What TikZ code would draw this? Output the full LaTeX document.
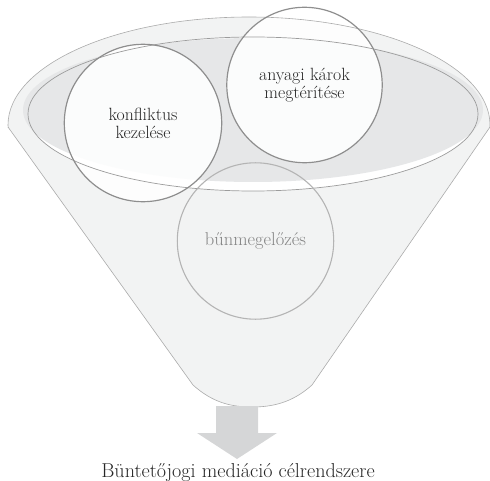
\documentclass[tikz,border=0pt]{standalone}
\definecolor{bodyfill}{HTML}{F2F3F3}
\definecolor{rimgray}{HTML}{E6E7E8}
\definecolor{bodyline}{HTML}{ABABAB}
\definecolor{innerline}{HTML}{9C9C9C}
\definecolor{ringline}{HTML}{8E8E8E}
\definecolor{ringlight}{HTML}{B4B4B4}
\definecolor{arrowgray}{HTML}{D5D6D7}
\definecolor{txtdark}{HTML}{262626}
\definecolor{txtlight}{HTML}{858585}
\tikzset{
  bubblefill/.style={circle, fill=white, fill opacity=0.88, inner sep=0pt, minimum size=#1},
  bubbleline/.style={circle, draw=ringline, line width=1.2pt, text=txtdark, align=center,
    inner sep=0pt, minimum size=#1, font=\fontsize{17.8}{18}\selectfont},
  thinline/.style={draw=bodyline, line width=0.6pt},
  rimline/.style={draw=innerline, line width=0.7pt},
}
\begin{document}
\begin{tikzpicture}[x=1bp,y=-1bp]
\useasboundingbox (0,0) rectangle (490,481);
% funnel body
\fill[bodyfill] (8,127) -- (193,385) .. controls (213,403) and (232,407) .. (252,407)
  .. controls (272,407) and (292,403) .. (312,385) -- (490,127) -- cycle;
\begin{scope}
  \clip (0,0) rectangle (490,127.3);
  \fill[bodyfill] (249,125) ellipse [x radius=241, y radius=108];
\end{scope}
% rim interior
\fill[white] (253,114) ellipse [x radius=225, y radius=77];
\fill[rimgray] (253,110) ellipse [x radius=230, y radius=72];
% circle fills
\node[bubblefill=158] (c1) at (143,123) {};
\node[bubblefill=156] (c2) at (304.5,85) {};
% funnel outlines
\draw[thinline, line join=round] (8,127) -- (193,385) .. controls (213,403) and (232,407) .. (252,407)
  .. controls (272,407) and (292,403) .. (312,385) -- (490,127);
\begin{scope}
  \clip (0,0) rectangle (490,127.3);
  \draw[thinline] (249,125) ellipse [x radius=241, y radius=108];
\end{scope}
\draw[rimline] (253,114) ellipse [x radius=225, y radius=77];
% circles with text
\node[bubbleline=158] (t1) at (c1) {konfliktus\\kezelése};
\node[bubbleline=156] (t2) at (c2) {anyagi károk\\megtérítése};
\node[circle, draw=ringlight, line width=1.1pt, inner sep=0pt, minimum size=157,
  text=txtlight, font=\fontsize{18.6}{19}\selectfont] (c3) at (255.5,241) {bűnmegelőzés};
% arrow
\fill[arrowgray] (216,406) -- (258,406) -- (258,433) -- (277,433) -- (237,459)
  -- (197,433) -- (216,433) -- cycle;
\node[anchor=base, text=txtdark, inner sep=0pt, font=\fontsize{20.2}{22}\selectfont] (title)
  at (238,477) {Büntetőjogi mediáció célrendszere};
\end{tikzpicture}
\end{document}
